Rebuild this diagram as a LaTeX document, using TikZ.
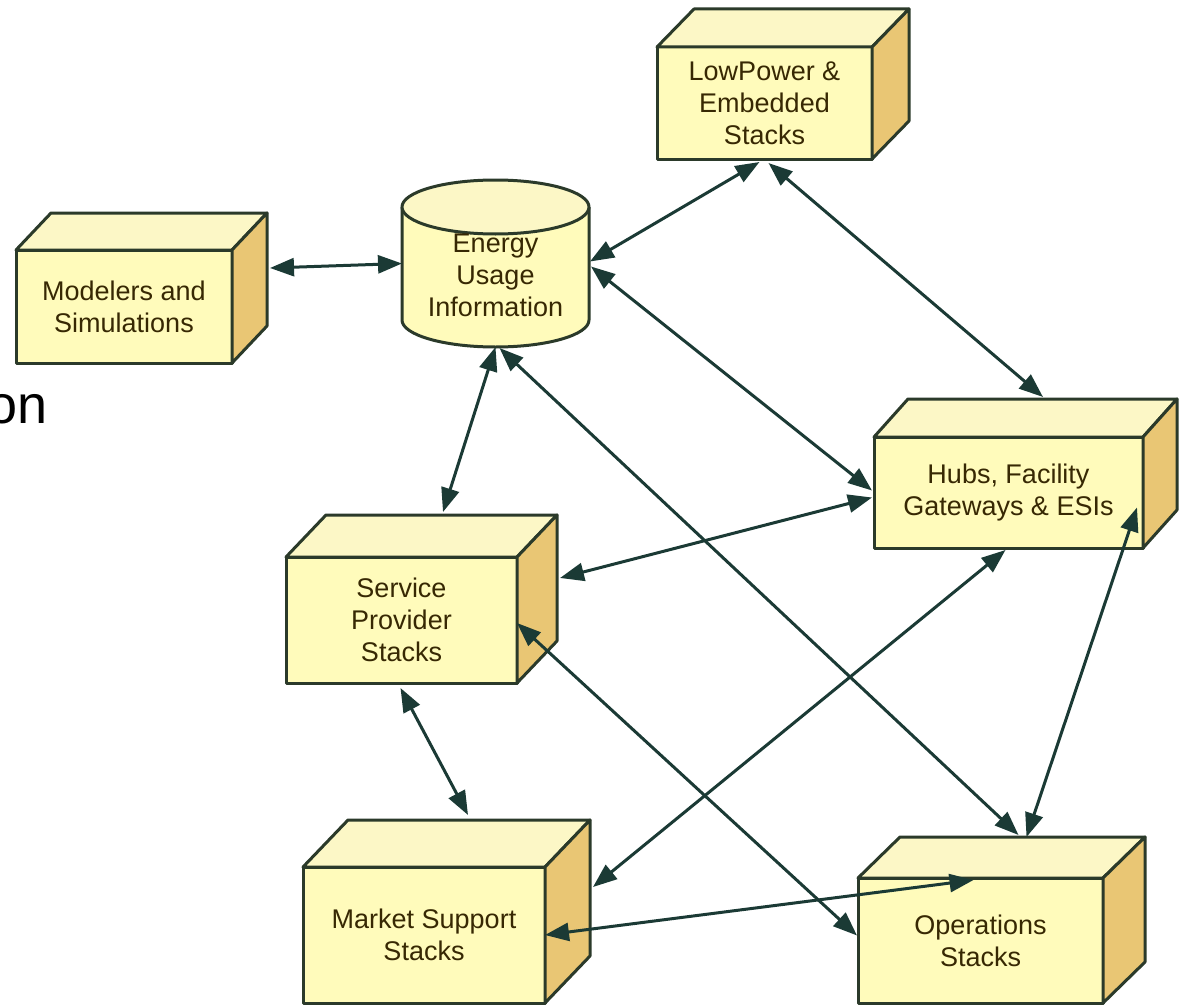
\documentclass[tikz,border=0pt]{standalone}
\usepackage{fontspec}
\setmainfont{Liberation Sans}
\usetikzlibrary{arrows.meta,calc}

\definecolor{frontc}{RGB}{255,251,187}
\definecolor{topc}{RGB}{252,247,198}
\definecolor{sidec}{RGB}{233,198,116}
\definecolor{edgec}{RGB}{43,58,42}
\definecolor{labelc}{RGB}{55,40,3}
\definecolor{linkc}{RGB}{27,58,53}

\tikzset{
  stack/.style={draw=edgec, fill=frontc, line width=3pt, line join=round,
    inner sep=0pt, outer sep=0pt, align=center, text=labelc,
    font=\fontsize{27}{32}\selectfont},
  topface/.style={draw=edgec, fill=topc, line width=3pt, line join=round},
  sideface/.style={draw=edgec, fill=sidec, line width=3pt, line join=round},
  storetext/.style={align=center, text=labelc, inner sep=0pt,
    font=\fontsize{27}{32}\selectfont},
  link/.style={draw=linkc, line width=3pt,
    {Triangle[length=24pt,width=18pt]}-{Triangle[length=24pt,width=18pt]}},
}

% top and right faces of a box whose front face is node #1, depth (#2,#3)
\newcommand\boxfaces[3]{%
  \filldraw[topface] (#1.north west) -- ++(#2,#3)
    -- ($(#1.north east)+(#2,#3)$) -- (#1.north east) -- cycle;
  \filldraw[sideface] (#1.north east) -- ++(#2,#3)
    -- ($(#1.south east)+(#2,#3)$) -- (#1.south east) -- cycle;
}

\begin{document}
\begin{tikzpicture}[x=1pt,y=-1pt]
\useasboundingbox (0,0) rectangle (1182,1006);

% caption fragment at the left edge
\node[anchor=base east, inner sep=0pt, font=\fontsize{54}{60}\selectfont] (frag) at (48,423) {on};

% boxes
\node[stack, minimum width=216pt, minimum height=113pt] (mod) at (124,306.5) {Modelers and\\Simulations};
\boxfaces{mod}{35}{-37}

\node[stack, minimum width=215pt, minimum height=112pt] (low) at (764.5,103) {LowPower \&\\Embedded\\Stacks};
\boxfaces{low}{37}{-38}

\node[stack, minimum width=269pt, minimum height=111pt] (hub) at (1008.5,492.5) {Hubs, Facility\\Gateways \& ESIs};
\boxfaces{hub}{34}{-38}

\node[stack, minimum width=231pt, minimum height=126pt] (svc) at (401.5,620) {Service\\Provider\\Stacks};
\boxfaces{svc}{40}{-42}

\node[stack, minimum width=242pt, minimum height=136pt] (mkt) at (424,935) {Market Support\\Stacks};
\boxfaces{mkt}{45}{-47}

\node[stack, minimum width=245pt, minimum height=125pt] (ops) at (980.5,940.5) {Operations\\Stacks};
\boxfaces{ops}{42}{-41}

% data store cylinder
\node[inner sep=0pt, outer sep=0pt, minimum width=187pt, minimum height=167pt] (eui) at (495.5,263.5) {};
\fill[frontc] ($(eui.north west)+(0,27)$) -- ($(eui.south west)+(0,-27)$)
  arc[start angle=180, end angle=0, x radius=93.5, y radius=27]
  -- ($(eui.north east)+(0,27)$) -- cycle;
\draw[edgec, line width=3pt] ($(eui.north west)+(0,27)$) -- ($(eui.south west)+(0,-27)$)
  arc[start angle=180, end angle=0, x radius=93.5, y radius=27]
  -- ($(eui.north east)+(0,27)$);
\filldraw[topface] ($(eui.north)+(0,27)$) ellipse[x radius=93.5, y radius=27];
\node[storetext] (euitext) at (495.5,275) {Energy\\Usage\\Information};

% connections
\draw[link] ($(mod.east)+(38,-38.5)$) -- (eui.west);
\draw[link] ($(eui.east)+(1,-2)$) -- ($(low.south)+(-5,3)$);
\draw[link] ($(low.south)+(4,4)$) -- ($(hub.north)+(34.5,-40)$);
\draw[link] ($(eui.east)+(2,3)$) -- ($(hub.west)+(-2,-2)$);
\draw[link] (eui.south) -- ($(svc.north)+(41.5,-45)$);
\draw[link] ($(eui.south)+(4,1)$) -- ($(ops.north)+(38,-43)$);
\draw[link] ($(svc.east)+(43,-42)$) -- ($(hub.west)+(-2,5)$);
\draw[link] ($(hub.south)+(-3,2)$) -- ($(mkt.east)+(48,-48)$);
\draw[link] ($(hub.east)+(-6,15)$) -- ($(ops.north)+(46,-41)$);
\draw[link] ($(svc.east)+(0,3)$) -- ($(ops.west)+(-1,-5)$);
\draw[link] ($(svc.south)+(-1,5)$) -- ($(mkt.north)+(44,-52)$);
\draw[link] (mkt.east) -- ($(ops.north)+(-7,2)$);
\end{tikzpicture}
\end{document}
